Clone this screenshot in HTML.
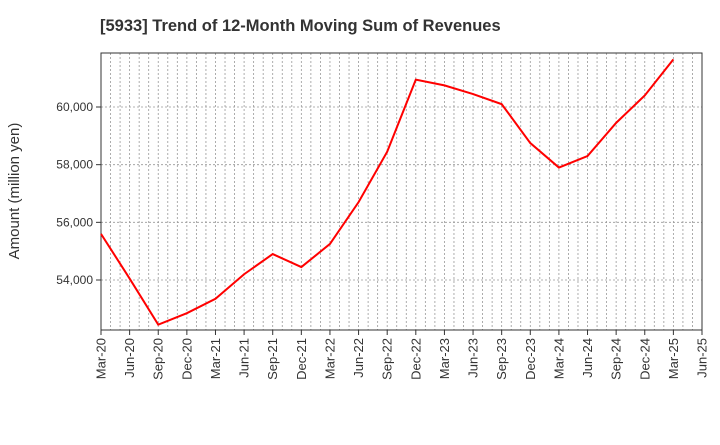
<!DOCTYPE html>
<html><head><meta charset="utf-8"><style>
body{margin:0;background:#fff;font-family:"Liberation Sans",sans-serif}
</style></head><body>
<svg width="720" height="440" id="c"></svg>
<script>
const categories=["Mar-20","Jun-20","Sep-20","Dec-20","Mar-21","Jun-21","Sep-21","Dec-21","Mar-22","Jun-22","Sep-22","Dec-22","Mar-23","Jun-23","Sep-23","Dec-23","Mar-24","Jun-24","Sep-24","Dec-24","Mar-25","Jun-25"];
const revenues=[55600,54050,52450,52850,53350,54200,54900,54450,55250,56700,58450,60950,60750,60450,60100,58750,57900,58300,59450,60400,61650];
const yTicks=[54000,56000,58000,60000];
const yTickLabels=["54,000","56,000","58,000","60,000"];
const NS="http://www.w3.org/2000/svg";
const svg=document.getElementById('c');
const L=101,R=702,T=53,B=330,yMin=52266,yMax=61873;
const x=i=>L+(R-L)*i/(categories.length-1);
const y=v=>B-(v-yMin)/(yMax-yMin)*(B-T);
function mk(t,a){const e=document.createElementNS(NS,t);for(const k in a)e.setAttribute(k,a[k]);svg.appendChild(e);return e;}
let e=mk('text',{x:100,y:31,'font-size':16.5,'font-weight':'bold',fill:'#333'});e.textContent="[5933]  Trend of 12-Month Moving Sum of Revenues";


for(let m=1;m<(categories.length-1)*3;m++){const xx=L+(R-L)*m/((categories.length-1)*3);
e=mk('line',{x1:xx,x2:xx,y1:T,y2:B,stroke:'#999','stroke-width':0.8,'stroke-dasharray':'2,2'});

}
yTicks.forEach((v,i)=>{
e=mk('line',{x1:L,x2:R,y1:y(v),y2:y(v),stroke:'#999','stroke-width':0.8,'stroke-dasharray':'2,2'});


e=mk('line',{x1:L-5,x2:L,y1:y(v),y2:y(v),stroke:'#333'});


e=mk('text',{x:L-8,y:y(v)+4,'font-size':12,'text-anchor':'end',fill:'#333'});e.textContent=yTickLabels[i];


});
categories.forEach((c,i)=>{
e=mk('line',{x1:x(i),x2:x(i),y1:B,y2:B+5,stroke:'#333'});


e=mk('text',{transform:`translate(${x(i)+4.5},${B+8}) rotate(-90)`,'font-size':13,'text-anchor':'end',fill:'#333'});e.textContent=c;


});
e=mk('rect',{x:L,y:T,width:R-L,height:B-T,fill:'none',stroke:'#333','stroke-width':1});


e=mk('text',{transform:'translate(19,191) rotate(-90)','font-size':15,'text-anchor':'middle',fill:'#333'});e.textContent="Amount (million yen)";


e=mk('polyline',{points:revenues.map((v,i)=>x(i)+','+y(v)).join(' '),fill:'none',stroke:'#f00','stroke-width':2});


</script>
</body></html>
